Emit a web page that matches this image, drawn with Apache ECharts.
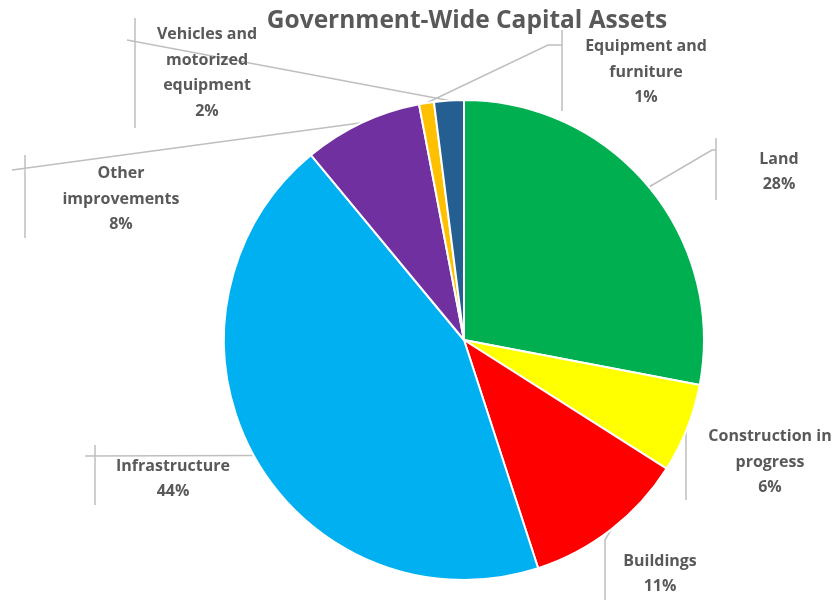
<!DOCTYPE html>
<html>
<head>
<meta charset="utf-8">
<script src="https://cdn.jsdelivr.net/npm/echarts@6/dist/echarts.min.js"></script>
<style>
  html, body { margin: 0; padding: 0; background: #ffffff; }
  #chart { width: 838px; height: 600px; }
</style>
</head>
<body>
<div id="chart"></div>
<script>
// Asset categories, clockwise from twelve o'clock
const categories = [
  'Land',
  'Construction in\nprogress',
  'Buildings',
  'Infrastructure',
  'Other\nimprovements',
  'Equipment and\nfurniture',
  'Vehicles and\nmotorized\nequipment'
];
// Share of total capital assets, percent
const shares = [28, 6, 11, 44, 8, 1, 2];
const sliceColors = ['#00b050', '#ffff00', '#ff0000', '#00b0f0', '#7030a0', '#ffc000', '#255e91'];

// Callout placement: text centre, vertical rule beside the text, leader path to the rule
const callouts = [
  { tx: 779, ty: 172, bar: 716, top: 138, bottom: 200, path: [[712, 150], [716, 150]] },
  { tx: 770, ty: 462, bar: 686, top: 418, bottom: 500, path: [[686, 432], [673, 432], [686, 432]] },
  { tx: 660, ty: 574, bar: 605, top: 540, bottom: 600, path: [[605, 540]] },
  { tx: 173, ty: 479, bar: 95, top: 445, bottom: 505, path: [[85, 456], [95, 456]] },
  { tx: 121, ty: 199, bar: 25, top: 155, bottom: 238, path: [[12, 170], [25, 168.3]] },
  { tx: 646, ty: 72, bar: 562, top: 30, bottom: 111, path: [[548, 45], [562, 45]] },
  { tx: 207, ty: 73, bar: 135, top: 18, bottom: 128, path: [[127, 40], [135, 41.5]] }
];

const chart = echarts.init(document.getElementById('chart'), null, { renderer: 'canvas' });

const textColor = '#595959';
const fontFamily = '"Open Sans", Lato, sans-serif';

chart.setOption({
  backgroundColor: '#ffffff',
  animation: false,
  title: {
    text: 'Government-Wide Capital Assets',
    left: 462,
    textAlign: 'center',
    top: 4,
    textStyle: { color: textColor, fontSize: 24.5, fontWeight: 'bold', fontFamily: fontFamily }
  },
  series: [{
    type: 'pie',
    center: [464, 340],
    radius: [0, 240],
    startAngle: 90,
    clockwise: true,
    avoidLabelOverlap: false,
    percentPrecision: 0,
    itemStyle: { borderColor: '#ffffff', borderWidth: 2 },
    label: {
      show: true,
      position: 'outside',
      formatter: '{b}\n{d}%',
      color: textColor,
      fontSize: 16,
      fontWeight: 'bold',
      fontFamily: fontFamily,
      lineHeight: 25.5,
      align: 'center'
    },
    labelLine: {
      show: true,
      length: 10,
      length2: 10,
      smooth: false,
      lineStyle: { color: '#bfbfbf', width: 1.5 }
    },
    labelLayout: function (params) {
      const c = callouts[params.dataIndex];
      const start = params.labelLinePoints ? params.labelLinePoints[0] : c.path[0];
      return {
        x: c.tx,
        y: c.ty,
        align: 'center',
        verticalAlign: 'middle',
        labelLinePoints: [start].concat(c.path, [[c.bar, c.top], [c.bar, c.bottom]])
      };
    },
    data: categories.map(function (name, i) {
      return { name: name, value: shares[i], itemStyle: { color: sliceColors[i] } };
    })
  }]
});
</script>
</body>
</html>
